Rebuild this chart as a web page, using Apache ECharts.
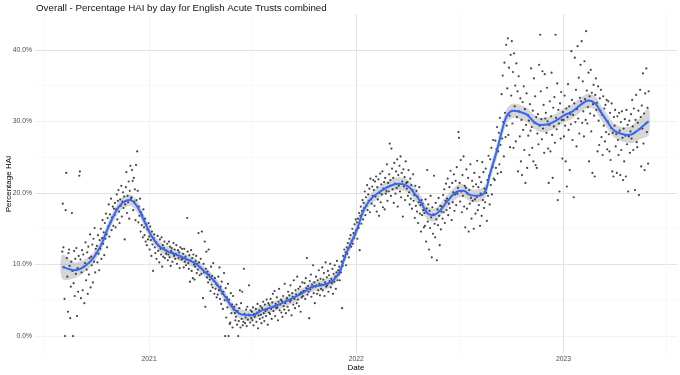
<!DOCTYPE html>
<html>
<head>
    <meta charset="utf-8">
    <title>Percentage HAI by day</title>
    <script src="https://cdn.jsdelivr.net/npm/echarts@6/dist/echarts.min.js"></script>
</head>
<body style="margin:0">
<div id="main" style="width:680px;height:375px;"></div>
<script type="text/javascript">
    // daily % HAI, one value per day starting from firstDay (one line per month)
    var firstDay = '2020-08-01';
    var haiPct = [
        11.8, 18.5, 12.4, 9.6, 5.2, 0.0, 17.6, 22.8, 10.9, 8.3, 3.4, 11.6, 12.1, 9.8, 2.5, 6.9, 10.4, 17.2, 9.1, 0.0, 7.4, 11.9, 5.6, 10.8, 8.7, 12.3, 2.8, 9.5, 6.2, 11.2, 22.4,
        23.0, 10.7, 5.3, 8.9, 12.0, 6.4, 11.4, 9.7, 4.6, 10.2, 13.1, 7.8, 9.3, 11.7, 5.9, 12.5, 8.6, 10.9, 14.2, 6.8, 11.1, 9.9, 12.8, 7.5, 13.6, 10.4, 15.1, 8.9, 12.2, 11.6,
        12.6, 10.3, 14.1, 11.5, 9.2, 13.4, 12.2, 15.0, 10.8, 13.7, 16.2, 12.9, 14.5, 11.3, 15.8, 13.6, 17.1, 14.2, 12.4, 16.5, 15.3, 18.4, 13.9, 17.0, 15.9, 19.2, 14.8, 16.6, 18.1, 15.4, 17.8,
        16.9, 18.6, 15.2, 17.7, 19.8, 16.3, 18.9, 20.4, 17.4, 15.8, 19.1, 18.2, 21.0, 16.7, 18.8, 20.1, 17.9, 19.5, 13.5, 18.4, 20.8, 22.9, 17.2, 19.6, 18.7, 21.6, 16.4, 20.3, 23.8, 19.2,
        19.4, 23.2, 21.7, 17.6, 22.1, 18.8, 20.5, 16.2, 23.9, 19.0, 25.8, 20.3, 15.9, 18.1, 16.8, 19.2, 14.6, 17.3, 15.5, 16.9, 13.8, 17.7, 15.2, 14.1, 16.4, 13.2, 15.6, 12.7, 14.9, 13.5, 15.8,
        13.9, 12.1, 15.3, 13.4, 11.2, 14.6, 12.8, 9.1, 13.7, 14.2, 12.4, 11.6, 13.1, 10.8, 12.9, 14.0, 11.9, 12.6, 10.3, 13.5, 12.2, 11.4, 13.8, 9.7, 12.7, 11.1, 12.3, 13.2, 10.9, 12.0, 11.5,
        11.8, 12.9, 10.6, 11.4, 13.2, 11.0, 12.5, 9.8, 11.9, 12.3, 10.4, 11.6, 13.0, 11.2, 12.1, 10.8, 11.5, 12.7, 10.1, 11.3, 12.0, 10.9, 11.7, 9.5, 12.4, 11.1, 10.7, 12.2,
        10.8, 11.5, 9.6, 12.2, 10.4, 11.1, 9.9, 10.7, 16.5, 11.8, 10.2, 9.4, 11.3, 7.6, 10.6, 12.0, 9.1, 10.9, 8.1, 11.4, 10.0, 7.9, 9.7, 10.5, 11.2, 8.8, 10.1, 9.3, 14.4, 10.3, 8.5,
        9.6, 10.8, 8.7, 14.6, 9.3, 5.3, 10.1, 8.9, 13.2, 4.1, 9.4, 11.8, 8.2, 9.0, 7.5, 12.1, 8.6, 7.9, 6.3, 9.7, 7.2, 8.4, 6.8, 10.2, 7.7, 5.9, 8.1, 6.6, 7.3, 5.4,
        7.1, 5.8, 8.3, 6.4, 9.6, 5.2, 6.9, 4.5, 7.6, 5.9, 3.8, 6.2, 8.8, 5.0, 0.0, 6.7, 2.6, 5.4, 4.0, 7.3, 0.0, 5.1, 1.7, 1.9, 6.0, 3.2, 4.4, 1.2, 5.6, 3.7, 4.1,
        3.2, 2.2, 2.7, 4.4, 1.6, 3.5, 0.0, 2.1, 3.9, 6.4, 1.2, 4.6, 2.4, 6.2, 1.5, 2.0, 9.4, 3.1, 1.8, 2.6, 3.7, 1.4, 4.1, 2.3, 3.0, 7.1, 2.9, 1.9, 3.6, 2.5,
        3.4, 2.2, 4.0, 1.5, 3.1, 2.7, 3.0, 3.8, 2.0, 3.3, 4.5, 1.1, 2.9, 3.6, 2.4, 4.2, 3.0, 1.8, 3.9, 2.6, 4.8, 3.2, 2.1, 4.4, 3.5, 2.8, 5.1, 3.7, 1.6, 4.6, 3.3,
        4.3, 3.1, 5.2, 3.8, 2.4, 4.7, 5.9, 3.5, 4.1, 6.3, 2.8, 4.5, 3.9, 5.4, 4.0, 2.2, 4.8, 6.6, 3.6, 4.4, 5.1, 3.3, 4.9, 2.7, 5.6, 4.2, 3.7, 7.3, 4.6, 3.2, 5.0,
        5.3, 4.1, 6.2, 3.6, 5.7, 4.8, 7.1, 5.0, 2.9, 6.0, 5.5, 4.4, 7.8, 5.2, 3.9, 6.4, 5.8, 4.6, 8.3, 5.1, 6.6, 4.2, 5.9, 6.9, 3.4, 6.1, 5.4, 7.5, 5.6, 6.3,
        6.3, 7.4, 5.2, 8.1, 6.7, 10.9, 5.8, 7.0, 6.2, 2.5, 7.7, 6.5, 8.6, 5.5, 7.2, 6.8, 9.9, 6.0, 7.5, 4.6, 6.9, 8.3, 7.1, 5.9, 7.8, 6.4, 9.2, 7.3, 5.7, 8.0, 6.6,
        7.2, 9.6, 6.4, 7.9, 8.8, 5.6, 7.5, 10.3, 6.9, 8.2, 7.1, 9.1, 6.2, 8.5, 7.7, 10.1, 6.8, 8.0, 7.4, 9.4, 5.9, 8.7, 7.6, 9.9, 8.3, 6.6, 8.9, 10.5, 7.8, 9.2,
        8.6, 9.7, 7.8, 9.3, 8.9, 10.4, 3.9, 9.8, 11.2, 10.6, 12.1, 10.9, 11.7, 9.9, 12.4, 11.5, 13.0, 12.2, 11.0, 13.6, 12.8, 14.1, 12.5, 13.3, 15.0, 12.9, 14.4, 13.7, 15.6, 14.2, 16.3,
        14.8, 15.9, 13.6, 16.4, 15.1, 17.2, 12.0, 16.8, 18.1, 15.7, 17.5, 19.0, 16.3, 18.6, 17.9, 20.2, 16.9, 19.4, 18.2, 21.1, 17.6, 19.8, 18.9, 20.6, 17.3, 22.0, 19.1, 18.5, 20.9, 19.6, 21.8,
        20.4, 18.2, 21.6, 19.5, 22.3, 17.4, 20.8, 19.1, 21.9, 16.8, 20.0, 22.7, 18.7, 21.2, 19.8, 23.0, 18.0, 20.6, 21.5, 17.7, 22.1, 19.9, 20.3, 24.0, 18.9, 21.4, 20.2, 22.6,
        26.9, 21.8, 19.6, 26.2, 23.4, 20.5, 22.1, 18.6, 24.2, 21.3, 19.9, 23.0, 20.7, 24.7, 18.1, 22.5, 21.0, 23.8, 20.2, 25.1, 19.4, 22.8, 21.6, 16.7, 23.3, 20.9, 22.2, 19.0, 24.4, 21.4, 20.6,
        21.5, 19.6, 23.2, 20.1, 18.4, 22.0, 19.2, 21.1, 17.8, 20.4, 22.6, 18.9, 19.7, 16.5, 21.0, 18.2, 20.3, 17.4, 19.5, 15.8, 18.7, 20.8, 17.1, 18.3, 14.6, 19.0, 16.9, 18.5, 17.6, 15.2,
        17.2, 15.4, 19.1, 13.2, 17.8, 23.2, 16.0, 18.4, 12.1, 17.5, 15.1, 19.6, 16.6, 11.0, 18.0, 14.3, 17.0, 22.4, 15.7, 13.8, 18.6, 16.3, 10.6, 17.7, 15.5, 19.3, 16.8, 12.7, 18.2, 14.9, 17.4,
        18.1, 16.4, 19.7, 17.3, 20.5, 15.8, 18.9, 21.3, 17.6, 19.2, 22.0, 16.9, 18.5, 20.8, 17.9, 23.1, 19.5, 16.2, 21.4, 18.7, 20.1, 22.6, 17.5, 19.8, 21.7, 18.3, 23.6, 19.9, 20.7, 28.5,
        27.7, 21.4, 18.8, 24.6, 20.2, 17.3, 22.5, 19.6, 25.1, 18.1, 21.0, 15.2, 20.7, 23.3, 17.8, 19.9, 22.1, 14.6, 20.4, 18.5, 24.0, 19.3, 16.4, 21.7, 18.9, 20.9, 15.0, 22.8, 19.1, 17.1, 21.2,
        19.4, 24.5, 17.6, 20.8, 18.3, 22.2, 15.4, 19.9, 21.5, 16.8, 24.3, 19.0, 22.9, 17.9, 20.6, 18.7, 23.4, 20.0, 16.1, 21.8, 19.6, 25.2, 22.4, 18.4, 24.7, 21.1, 26.3, 19.8, 23.6, 27.4, 22.0,
        24.6, 21.8, 27.3, 23.5, 26.1, 29.2, 22.7, 25.8, 28.4, 24.0, 30.5, 26.7, 22.9, 33.8, 27.6, 36.4, 29.9, 25.1, 38.2, 31.2, 27.8, 40.7, 29.4, 34.6, 41.6, 28.1, 37.5, 30.8, 26.4, 39.3,
        33.6, 41.2, 29.7, 36.9, 26.3, 39.5, 32.1, 35.0, 27.2, 38.1, 30.6, 34.2, 23.0, 36.3, 31.4, 27.9, 33.2, 24.4, 30.2, 22.5, 32.7, 28.8, 34.9, 26.0, 31.7, 21.4, 29.5, 33.9, 23.5, 30.9, 28.0,
        30.1, 25.3, 32.4, 28.7, 37.4, 29.2, 26.3, 31.5, 24.4, 36.0, 29.8, 33.5, 23.9, 30.6, 23.5, 28.3, 31.0, 26.8, 37.9, 29.4, 42.1, 34.2, 30.3, 27.5, 37.0, 29.0, 32.3, 25.6, 36.6, 30.4,
        31.2, 28.4, 34.7, 30.0, 26.2, 21.4, 29.5, 32.8, 25.8, 30.7, 36.8, 28.1, 22.1, 31.9, 29.3, 33.4, 27.0, 42.1, 30.5, 28.9, 35.3, 19.0, 31.6, 29.7, 20.2, 32.5, 27.6, 34.1, 30.2, 24.8, 31.3,
        30.2, 27.9, 33.6, 29.4, 24.4, 31.8, 20.9, 30.6, 35.2, 28.8, 32.1, 23.2, 31.0, 29.6, 39.8, 33.0, 27.4, 30.9, 19.4, 32.5, 38.9, 29.9, 34.4, 26.5, 31.7, 40.5, 30.4, 36.1, 28.3, 33.3, 37.9,
        32.8, 41.2, 29.8, 35.6, 31.4, 27.9, 38.4, 33.1, 30.2, 42.6, 34.3, 29.7, 32.0, 36.8, 24.4, 33.5, 31.1, 37.2, 28.6, 34.0, 22.8, 32.4, 35.1, 30.8, 22.3, 33.7, 36.0, 31.6,
        32.6, 25.8, 34.9, 30.1, 26.7, 33.2, 31.5, 34.4, 27.8, 30.9, 25.3, 33.5, 29.4, 31.8, 27.2, 32.3, 28.5, 33.0, 26.1, 30.0, 32.8, 28.2, 25.8, 31.2, 24.6, 29.1, 32.5, 23.0, 28.4, 22.3, 30.6,
        29.4, 31.6, 26.5, 28.2, 22.8, 30.7, 27.4, 25.3, 31.2, 28.7, 22.5, 29.9, 26.0, 31.4, 27.7, 21.8, 29.0, 24.4, 30.3, 28.0, 22.3, 31.6, 26.8, 29.5, 20.2, 27.9, 30.1, 25.6, 28.6, 31.0,
        27.6, 33.0, 29.3, 26.0, 31.8, 28.4, 20.4, 30.2, 33.7, 27.1, 26.4, 29.8, 31.5, 19.7, 28.9, 34.4, 30.6, 23.7, 32.2, 29.0, 36.7, 26.9, 31.1, 23.2, 33.9, 29.7, 37.4, 28.5, 31.9, 24.1, 34.2
    ];

    var fitDates = ['2020-08-01','2020-08-23','2020-09-19','2020-10-07','2020-10-19','2020-10-30','2020-11-11','2020-11-28','2020-12-11','2020-12-25',
        '2021-01-06','2021-01-20','2021-02-07','2021-02-24','2021-03-14','2021-03-23','2021-04-09','2021-04-27','2021-05-15','2021-05-29',
        '2021-06-14','2021-07-01','2021-07-19','2021-08-11','2021-09-03','2021-09-28','2021-10-15','2021-11-02','2021-11-16','2021-11-25',
        '2021-12-04','2021-12-12','2021-12-25','2022-01-04','2022-01-13','2022-01-25','2022-02-12','2022-03-02','2022-03-16','2022-04-01',
        '2022-04-11','2022-04-24','2022-05-06','2022-05-17','2022-05-29','2022-06-10','2022-06-28','2022-07-09','2022-07-21','2022-08-04',
        '2022-08-16','2022-08-25','2022-09-06','2022-09-15','2022-09-24','2022-10-05','2022-10-17','2022-10-29','2022-11-09','2022-11-21',
        '2022-12-05','2022-12-21','2023-01-01','2023-01-17','2023-01-31','2023-02-14','2023-02-26','2023-03-07','2023-03-19','2023-03-30',
        '2023-04-11','2023-04-24','2023-05-04','2023-05-16','2023-05-31'];
    var fitPct = [9.7,9.2,10.4,12.5,14.8,16.7,18.3,19.0,18.1,15.8,
        13.9,12.5,11.7,11.2,10.5,10.2,9.0,7.6,5.5,3.9,
        3.0,2.9,3.6,4.2,5.0,6.0,6.9,7.1,7.5,8.1,
        9.2,11.1,13.4,15.3,17.4,19.0,20.2,21.0,21.3,21.0,
        20.2,18.8,17.2,16.9,17.6,18.8,20.2,20.3,19.7,19.6,
        20.2,22.8,26.0,28.8,30.9,31.5,31.3,30.9,30.0,29.5,
        29.6,30.2,30.8,31.4,32.3,32.9,32.5,31.4,30.0,28.8,
        28.3,28.1,28.3,29.0,30.0];
    var fitLo = [8.0,8.1,9.6,11.7,14.0,15.9,17.5,18.2,17.3,15.0,
        13.2,11.8,11.0,10.5,9.8,9.5,8.3,6.9,4.8,3.2,
        2.3,2.2,2.9,3.5,4.3,5.3,6.2,6.4,6.8,7.4,
        8.5,10.4,12.6,14.5,16.6,18.2,19.4,20.2,20.4,20.1,
        19.3,17.9,16.3,16.0,16.7,17.9,19.3,19.4,18.8,18.7,
        19.3,21.9,25.0,27.8,29.9,30.5,30.3,29.9,29.0,28.5,
        28.6,29.2,29.8,30.4,31.3,31.9,31.5,30.4,29.0,27.8,
        27.3,27.0,27.0,27.5,28.1];
    var fitHi = [11.4,10.3,11.2,13.3,15.6,17.5,19.1,19.8,18.9,16.6,
        14.7,13.2,12.4,11.9,11.2,10.9,9.7,8.3,6.2,4.6,
        3.7,3.6,4.3,4.9,5.7,6.7,7.6,7.8,8.2,8.8,
        9.9,11.8,14.2,16.1,18.2,19.8,21.0,21.8,22.2,21.9,
        21.1,19.7,18.1,17.8,18.5,19.7,21.1,21.2,20.6,20.5,
        21.1,23.7,27.0,29.8,31.9,32.5,32.3,31.9,31.0,30.5,
        30.6,31.2,31.8,32.4,33.3,33.9,33.5,32.4,31.0,29.8,
        29.3,29.2,29.6,30.5,31.9];

    // axis breaks
    var xLabelDates = ['2021-01-01', '2022-01-01', '2023-01-01'];
    var xGridDates = ['2020-07-01', '2021-01-01', '2021-07-01', '2022-01-01', '2022-07-01', '2023-01-01', '2023-07-01'];
    var yLabelVals = [0, 10, 20, 30, 40];
    var yGridVals = [0, 5, 10, 15, 20, 25, 30, 35, 40];

    function toMs(s) {
        var p = s.split('-');
        return Date.UTC(+p[0], +p[1] - 1, +p[2]);
    }
    var DAY = 86400000;
    var t0 = toMs(firstDay);
    var points = haiPct.map(function (v, i) { return [t0 + i * DAY, v]; });
    var fitT = fitDates.map(toMs);
    var lineData = fitT.map(function (t, i) { return [t, fitPct[i]]; });
    var bandData = fitT.map(function (t, i) { return [t, fitLo[i], fitHi[i]]; });

    // grey ribbon: one smoothed polygon, upper edge then lower edge back
    function renderBand(params, api) {
        if (params.dataIndex !== 0) return null;
        var n = params.dataInsideLength;
        var upper = [], lower = [];
        for (var i = 0; i < n; i++) {
            upper.push(api.coord([api.value(0, i), api.value(2, i)]));
            lower.push(api.coord([api.value(0, i), api.value(1, i)]));
        }
        return {
            type: 'polygon',
            shape: {points: upper.concat(lower.reverse()), smooth: 0.3},
            style: {fill: 'rgba(153,153,153,0.4)'},
            silent: true
        };
    }

    var font = 'Liberation Sans, Arial, sans-serif';
    var myChart = echarts.init(document.getElementById('main'));
    var option = {
        animation: false,
        textStyle: {fontFamily: font},
        title: {
            text: 'Overall - Percentage HAI by day for English Acute Trusts combined',
            left: 36,
            top: 3,
            padding: 0,
            textStyle: {fontSize: 9.75, fontWeight: 'normal', color: '#111', fontFamily: font}
        },
        grid: {left: 35, right: 3, top: 14, bottom: 21, containLabel: false, outerBoundsMode: 'none'},
        xAxis: {
            // dates as ms on a plain value axis so the breaks can be placed exactly
            type: 'value',
            min: toMs('2020-06-14'),
            max: toMs('2023-07-20'),
            name: 'Date',
            nameLocation: 'middle',
            nameGap: 10,
            nameMoveOverlap: false,
            nameTextStyle: {fontSize: 8, color: '#000', fontFamily: font},
            axisLine: {show: false},
            axisTick: {show: false, customValues: xGridDates.map(toMs)},
            axisLabel: {
                customValues: xLabelDates.map(toMs),
                formatter: function (v) { return String(new Date(v).getUTCFullYear()); },
                fontSize: 6.8,
                color: '#4d4d4d',
                margin: 2
            },
            splitLine: {
                show: true,
                lineStyle: {width: 1, color: ['#f7f7f7', '#f3f3f3', '#f7f7f7', '#e3e3e3', '#f7f7f7', '#e3e3e3', '#f7f7f7']}
            }
        },
        yAxis: {
            type: 'value',
            min: -2.5,
            max: 45,
            name: 'Percentage HAI',
            nameLocation: 'middle',
            nameGap: 22,
            nameRotate: 90,
            nameMoveOverlap: false,
            nameTextStyle: {fontSize: 8, color: '#000', fontFamily: font},
            axisLine: {show: false},
            axisTick: {show: false, customValues: yGridVals},
            axisLabel: {
                customValues: yLabelVals,
                formatter: function (v) { return v.toFixed(1) + '%'; },
                fontSize: 6.8,
                color: '#4d4d4d',
                margin: 3
            },
            splitLine: {
                show: true,
                lineStyle: {width: 1, color: ['#f3f3f3', '#f8f8f8', '#e3e3e3', '#f8f8f8', '#e3e3e3', '#f8f8f8', '#f0f0f0', '#f8f8f8', '#e3e3e3']}
            }
        },
        series: [
            {
                name: 'HAI',
                type: 'scatter',
                data: points,
                symbol: 'circle',
                symbolSize: 2.2,
                itemStyle: {color: '#262626', opacity: 0.85},
                silent: true
            },
            {
                name: 'band',
                type: 'custom',
                data: bandData,
                encode: {x: 0, y: [1, 2]},
                renderItem: renderBand,
                silent: true
            },
            {
                name: 'fit',
                type: 'line',
                data: lineData,
                smooth: 0.35,
                symbol: 'none',
                lineStyle: {color: '#3366FF', width: 2},
                silent: true
            }
        ]
    };
    myChart.setOption(option);
</script>
</body>
</html>
